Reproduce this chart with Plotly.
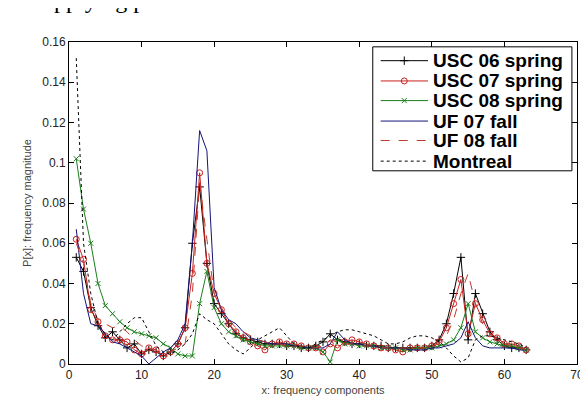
import plotly.graph_objects as go

# x: frequency components (1..63)
x = list(range(1, 64))

usc06_spring = [0.053, 0.046, 0.028, 0.019, 0.013, 0.016, 0.012, 0.008, 0.010, 0.005,
                0.007, 0.006, 0.004, 0.006, 0.010, 0.018, 0.060, 0.088, 0.050, 0.030,
                0.025, 0.020, 0.015, 0.013, 0.012, 0.011, 0.010, 0.010, 0.010, 0.009,
                0.009, 0.008, 0.008, 0.009, 0.011, 0.015, 0.012, 0.011, 0.010, 0.010,
                0.009, 0.009, 0.009, 0.008, 0.008, 0.008, 0.008, 0.008, 0.008, 0.009,
                0.012, 0.020, 0.035, 0.053, 0.012, 0.035, 0.025, 0.016, 0.012, 0.009,
                0.008, 0.008, 0.007]
usc07_spring = [0.062, 0.052, 0.027, 0.021, 0.014, 0.012, 0.012, 0.011, 0.007, 0.005,
                0.008, 0.007, 0.004, 0.006, 0.010, 0.018, 0.045, 0.095, 0.050, 0.035,
                0.027, 0.020, 0.016, 0.013, 0.011, 0.009, 0.007, 0.010, 0.011, 0.010,
                0.010, 0.009, 0.008, 0.008, 0.006, 0.010, 0.008, 0.011, 0.012, 0.011,
                0.010, 0.009, 0.008, 0.008, 0.007, 0.006, 0.008, 0.008, 0.008, 0.009,
                0.011, 0.018, 0.030, 0.042, 0.015, 0.030, 0.022, 0.015, 0.013, 0.010,
                0.010, 0.009, 0.007]
usc08_spring = [0.102, 0.077, 0.060, 0.040, 0.029, 0.025, 0.021, 0.018, 0.016, 0.015,
                0.014, 0.013, 0.010, 0.008, 0.005, 0.004, 0.004, 0.030, 0.046, 0.028,
                0.020, 0.016, 0.014, 0.012, 0.011, 0.010, 0.009, 0.009, 0.009, 0.009,
                0.009, 0.008, 0.008, 0.008, 0.006, 0.001, 0.012, 0.010, 0.010, 0.009,
                0.009, 0.009, 0.008, 0.008, 0.008, 0.007, 0.007, 0.008, 0.008, 0.008,
                0.009, 0.010, 0.012, 0.018, 0.030, 0.016, 0.013, 0.011, 0.010, 0.009,
                0.009, 0.008, 0.007]
uf07_fall = [0.067, 0.035, 0.020, 0.019, 0.015, 0.011, 0.010, 0.008, 0.006, 0.004,
             0.000, 0.003, 0.006, 0.008, 0.012, 0.020, 0.060, 0.116, 0.106, 0.038,
             0.027, 0.022, 0.020, 0.016, 0.013, 0.012, 0.011, 0.010, 0.010, 0.010,
             0.009, 0.009, 0.008, 0.008, 0.008, 0.010, 0.016, 0.012, 0.010, 0.010,
             0.009, 0.009, 0.008, 0.008, 0.008, 0.008, 0.007, 0.007, 0.007, 0.008,
             0.008, 0.009, 0.010, 0.013, 0.021, 0.013, 0.009, 0.008, 0.008, 0.008,
             0.008, 0.007, 0.007]
uf08_fall = [0.060, 0.050, 0.030, 0.022, 0.020, 0.018, 0.019, 0.016, 0.012, 0.009,
             0.008, 0.006, 0.005, 0.006, 0.008, 0.010, 0.035, 0.090, 0.062, 0.035,
             0.028, 0.022, 0.018, 0.016, 0.014, 0.012, 0.011, 0.010, 0.010, 0.009,
             0.009, 0.009, 0.008, 0.008, 0.009, 0.012, 0.011, 0.010, 0.010, 0.009,
             0.009, 0.009, 0.008, 0.008, 0.008, 0.008, 0.008, 0.008, 0.008, 0.009,
             0.010, 0.014, 0.022, 0.035, 0.045, 0.030, 0.020, 0.015, 0.012, 0.010,
             0.009, 0.008, 0.007]
montreal = [0.152, 0.060, 0.035, 0.020, 0.015, 0.012, 0.016, 0.020, 0.023, 0.023,
            0.016, 0.009, 0.006, 0.005, 0.007, 0.010, 0.015, 0.025, 0.022, 0.020,
            0.015, 0.010, 0.007, 0.005, 0.008, 0.012, 0.014, 0.016, 0.018, 0.014,
            0.010, 0.008, 0.008, 0.010, 0.012, 0.014, 0.016, 0.017, 0.017, 0.016,
            0.015, 0.014, 0.012, 0.010, 0.010, 0.011, 0.013, 0.014, 0.014, 0.013,
            0.011, 0.008, 0.004, 0.001, 0.003, 0.012, 0.014, 0.014, 0.013, 0.012,
            0.011, 0.010, 0.008]

series_names = ["USC 06 spring", "USC 07 spring", "USC 08 spring",
                "UF 07 fall", "UF 08 fall", "Montreal"]
x_ticks = [0, 10, 20, 30, 40, 50, 60, 70]
y_ticks = [0, 0.02, 0.04, 0.06, 0.08, 0.1, 0.12, 0.14, 0.16]

# line styles (matlab look)
styles = [
    dict(color="#000000", dash="solid", symbol="cross-thin-open", msize=6),
    dict(color="#cc1f1f", dash="solid", symbol="circle-open", msize=6),
    dict(color="#1a7f1a", dash="solid", symbol="x-thin-open", msize=5),
    dict(color="#14147a", dash="solid", symbol=None, msize=0),
    dict(color="#c0392b", dash="dash", symbol=None, msize=0),
    dict(color="#000000", dash="dot", symbol=None, msize=0),
]
all_y = [usc06_spring, usc07_spring, usc08_spring, uf07_fall, uf08_fall, montreal]

fig = go.Figure()
for name, yy, st in zip(series_names, all_y, styles):
    mode = "lines+markers" if st["symbol"] else "lines"
    fig.add_trace(go.Scatter(
        x=x, y=yy, name=name, mode=mode, showlegend=False,
        line=dict(color=st["color"], width=1, dash=st["dash"]),
        marker=dict(symbol=st["symbol"] or "circle", size=st["msize"],
                    color=st["color"], line=dict(color=st["color"], width=1)),
    ))

# hand drawn legend on an overlay axis (0..1 over plot area)
row_y = [0.942, 0.879, 0.818, 0.7545, 0.694, 0.630]
for name, st, ry in zip(series_names, styles, row_y):
    fig.add_trace(go.Scatter(
        x=[0.6136, 0.7068], y=[ry, ry], mode="lines", xaxis="x2", yaxis="y2",
        showlegend=False, hoverinfo="skip",
        line=dict(color=st["color"], width=1, dash=st["dash"]),
    ))
    if st["symbol"]:
        fig.add_trace(go.Scatter(
            x=[0.660], y=[ry], mode="markers", xaxis="x2", yaxis="y2",
            showlegend=False, hoverinfo="skip",
            marker=dict(symbol=st["symbol"], size=st["msize"], color=st["color"],
                        line=dict(color=st["color"], width=1)),
        ))
    fig.add_annotation(x=0.7126, y=ry, xref="x2", yref="y2", text="<b>" + name + "</b>",
                       showarrow=False, xanchor="left", yanchor="middle",
                       font=dict(family="Liberation Sans, Arial", size=19, color="#000000"))

fig.add_shape(type="rect", xref="x2", yref="y2", x0=0.598, x1=0.990, y0=0.600, y1=0.985,
              line=dict(color="#000000", width=1), fillcolor="rgba(255,255,255,0)", layer="below")

# cut-off text from the page above the figure
fig.add_annotation(x=0.06, y=1, xref="paper", yref="paper", text="pplying p",
                   showarrow=False, xanchor="center", yanchor="bottom", yshift=27,
                   font=dict(family="Liberation Serif", size=24, color="#000000"))

axis_common = dict(showgrid=False, zeroline=False, showline=True, linecolor="#000000",
                   linewidth=1, mirror="ticks", ticks="inside", ticklen=5,
                   tickcolor="#000000", tickfont=dict(family="Liberation Sans, Arial",
                                                      size=12, color="#222222"))

fig.update_layout(
    width=588, height=398,
    margin=dict(l=61, r=12, t=34, b=34),
    paper_bgcolor="white", plot_bgcolor="white",
    xaxis=dict(range=[0, 70], tickvals=x_ticks,
               title=dict(text="x: frequency components", standoff=4,
                          font=dict(family="Liberation Sans, Arial", size=11, color="#444444")),
               **axis_common),
    yaxis=dict(range=[0, 0.16], tickvals=y_ticks,
               title=dict(text="P[x]: frequency magnitude", standoff=8,
                          font=dict(family="Liberation Sans, Arial", size=11, color="#444444")),
               **axis_common),
    xaxis2=dict(range=[0, 1], overlaying="x", visible=False, domain=[0, 1]),
    yaxis2=dict(range=[0, 1], overlaying="y", visible=False),
    showlegend=False,
)

fig.write_html("out.html")
